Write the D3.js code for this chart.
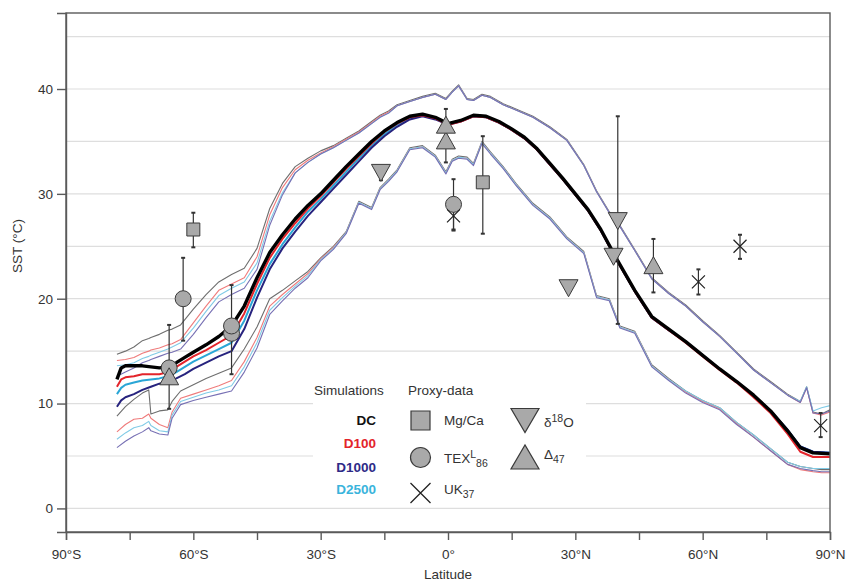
<!DOCTYPE html>
<html><head><meta charset="utf-8">
<script src="https://cdn.jsdelivr.net/npm/d3@7"></script>
<style>
body{margin:0;background:#fff;}
text{font-family:"Liberation Sans",Arial,Helvetica,sans-serif;}
</style></head><body>
<svg id="chart" width="850" height="581"></svg>
<script>
// ---------- DATA ----------
const latMean = [-78,-77,-76,-74,-72,-70,-68,-66,-64,-62,-60,-57,-54,-51,-48,-45,-42,-39,-36,-33,-30,-27,-24,-21,-18,-15,-12,-9,-6,-3,0,3,6,9,12,15,18,21,24,27,30,33,36,40,44,48,52,56,60,64,68,72,76,80,83,86,90];
const dcMean    = [12.3,13.4,13.6,13.6,13.6,13.5,13.4,13.5,13.9,14.4,14.9,15.6,16.4,17.4,19.3,22.0,24.4,26.1,27.6,28.9,30.0,31.3,32.6,33.8,35.0,36.0,36.8,37.4,37.6,37.3,36.7,37.0,37.5,37.4,36.9,36.2,35.4,34.3,32.9,31.5,30.0,28.5,26.6,23.6,20.8,18.3,17.1,15.9,14.6,13.3,12.1,10.8,9.3,7.4,5.8,5.3,5.2];
const d100Mean  = [11.6,12.3,12.5,12.6,12.8,12.8,12.8,13.0,13.5,14.0,14.5,15.1,15.8,16.5,18.6,21.4,23.9,25.7,27.2,28.6,29.8,31.1,32.4,33.6,34.8,35.9,36.7,37.3,37.5,37.2,36.6,36.9,37.4,37.3,36.8,36.1,35.3,34.2,32.8,31.4,29.9,28.4,26.5,23.5,20.7,18.2,17.0,15.8,14.5,13.2,12.0,10.6,9.1,7.1,5.4,4.9,4.9];
const d1000Mean = [9.7,10.3,10.6,10.9,11.3,11.6,11.9,12.1,12.4,12.8,13.3,13.9,14.5,15.0,17.1,20.1,22.8,24.8,26.4,27.9,29.2,30.5,31.8,33.1,34.4,35.5,36.4,37.1,37.4,37.1,36.6,36.9,37.4,37.3,36.8,36.1,35.3,34.2,32.8,31.4,29.9,28.4,26.5,23.5,20.7,18.2,17.0,15.9,14.6,13.3,12.1,10.8,9.3,7.5,5.9,5.4,5.3];
const d2500Mean = [10.9,11.5,11.8,12.0,12.2,12.3,12.4,12.6,13.0,13.5,14.0,14.6,15.2,15.8,17.9,20.8,23.3,25.2,26.8,28.3,29.5,30.8,32.1,33.4,34.6,35.7,36.6,37.2,37.5,37.2,36.6,37.0,37.4,37.3,36.8,36.1,35.3,34.2,32.8,31.4,29.9,28.4,26.5,23.5,20.7,18.2,17.0,15.9,14.6,13.3,12.1,10.8,9.3,7.5,5.9,5.4,5.3];

const latEnv = [-78,-76,-74,-72,-70.5,-70,-68,-66,-65,-63,-60,-57,-54,-51,-48,-45,-42,-39,-36,-33,-30,-27,-24,-21,-18,-16,-14,-12,-9,-6,-3,-0.5,1,2.5,4.5,6,8,10,13,16,20,24,28,32,35,38,40.5,44,48,52,56,60,64,68,72,76,80,83,84.5,86,88,90];
const dcMax    = [14.7,15.0,15.4,16.0,16.2,16.3,16.6,17.0,17.1,17.5,19.0,20.4,21.6,22.3,22.9,24.8,28.6,31.0,32.6,33.4,34.1,34.6,35.3,36.0,36.9,37.5,37.9,38.5,38.9,39.3,39.6,39.1,39.8,40.4,39.1,39.0,39.5,39.3,38.6,38.1,37.4,36.4,35.2,32.8,30.3,28.3,27.0,24.7,22.0,20.6,19.4,17.9,16.5,14.9,13.3,12.1,10.9,10.2,11.6,9.2,9.0,9.4];
const d100Max  = [14.1,14.2,14.4,14.8,15.0,15.1,15.3,15.6,15.7,16.1,17.7,19.3,20.8,21.4,22.0,24.0,28.0,30.6,32.3,33.2,33.9,34.5,35.2,35.9,36.8,37.4,37.8,38.4,38.8,39.2,39.5,39.0,39.7,40.3,39.0,38.9,39.4,39.2,38.5,38.0,37.3,36.3,35.1,32.7,30.2,28.2,26.9,24.6,21.9,20.5,19.3,17.8,16.4,14.8,13.2,12.0,10.8,10.1,11.5,9.1,8.9,9.2];
const d1000Max = [12.6,13.0,13.4,13.9,14.1,14.2,14.5,14.8,14.9,15.2,16.6,18.2,19.7,20.4,21.0,22.8,27.0,29.9,32.0,33.0,33.8,34.4,35.1,35.8,36.7,37.3,37.7,38.4,38.8,39.2,39.5,39.0,39.7,40.3,39.0,38.9,39.4,39.2,38.5,38.0,37.3,36.3,35.1,32.7,30.2,28.2,26.9,24.6,21.9,20.5,19.3,17.8,16.4,14.8,13.2,12.0,10.8,10.1,11.5,9.1,9.0,9.3];
const d2500Max = [13.6,13.7,13.9,14.3,14.5,14.6,14.9,15.2,15.4,15.8,17.2,18.8,20.3,21.0,21.6,23.4,27.4,30.1,32.0,33.0,33.8,34.4,35.1,35.8,36.7,37.3,37.7,38.4,38.8,39.2,39.5,39.0,39.7,40.3,39.0,38.9,39.4,39.2,38.5,38.0,37.3,36.3,35.1,32.7,30.2,28.2,26.9,24.6,21.9,20.5,19.3,17.8,16.4,14.8,13.2,12.0,10.8,10.2,11.6,9.3,9.6,9.8];
const dcMin    = [8.8,9.7,10.4,11.0,11.3,9.0,9.3,9.4,10.2,11.2,11.8,12.4,12.9,13.4,15.2,17.3,20.0,20.8,21.7,22.6,23.9,25.0,26.4,29.3,28.7,30.6,31.4,32.3,34.4,34.6,33.7,32.1,33.3,33.6,33.5,32.9,35.0,34.0,32.6,31.0,29.1,27.8,25.9,24.5,20.3,20.0,17.4,16.9,13.7,12.4,11.2,10.3,9.6,8.2,7.0,5.7,4.4,4.0,3.9,3.8,3.7,3.7];
const d100Min  = [7.3,8.0,8.5,8.6,9.0,8.6,8.0,7.7,9.2,10.5,10.9,11.3,11.7,12.2,14.0,16.3,19.3,20.4,21.4,22.4,23.8,24.9,26.3,29.2,28.6,30.5,31.3,32.2,34.3,34.5,33.6,32.0,33.2,33.5,33.4,32.8,34.9,33.9,32.5,30.9,29.0,27.7,25.8,24.4,20.2,19.9,17.3,16.8,13.6,12.3,11.1,10.2,9.5,8.1,6.8,5.5,4.2,3.7,3.6,3.5,3.4,3.4];
const d1000Min = [5.8,6.4,6.9,7.3,7.7,7.4,7.1,7.0,8.6,9.9,10.3,10.6,10.9,11.2,13.0,15.3,18.5,19.8,21.0,22.0,23.6,24.7,26.2,29.1,28.5,30.4,31.2,32.1,34.2,34.4,33.5,31.9,33.1,33.4,33.3,32.7,34.8,33.8,32.4,30.8,28.9,27.6,25.7,24.3,20.1,19.8,17.2,16.7,13.5,12.2,11.0,10.1,9.4,8.0,6.8,5.5,4.2,3.8,3.7,3.6,3.5,3.5];
const d2500Min = [6.6,7.2,7.7,7.9,8.3,7.9,7.4,7.3,8.9,10.2,10.6,11.0,11.3,11.7,13.5,15.8,18.9,20.1,21.2,22.2,23.7,24.8,26.3,29.2,28.6,30.5,31.3,32.2,34.3,34.5,33.6,32.0,33.2,33.5,33.4,32.8,34.9,33.9,32.5,30.9,29.0,27.7,25.8,24.4,20.2,19.9,17.3,16.8,13.6,12.3,11.2,10.3,9.6,8.2,7.0,5.7,4.4,4.0,3.9,3.8,3.8,3.8];

// proxies
const mgca  = [{lat:-60.0,sst:26.6,lo:24.9,hi:28.2},{lat:8.2,sst:31.1,lo:26.2,hi:35.5}];
const tex86 = [{lat:-62.4,sst:20.0,lo:16.0,hi:23.9},{lat:-65.7,sst:13.4,lo:9.5,hi:17.5},{lat:-51.0,sst:16.7,lo:null,hi:null},{lat:-51.0,sst:17.4,lo:12.8,hi:21.3},{lat:1.3,sst:29.0,lo:26.5,hi:31.4}];
const uk37  = [{lat:1.3,sst:27.9,lo:26.6,hi:28.9},{lat:59.0,sst:21.6,lo:20.4,hi:22.8},{lat:68.8,sst:25.0,lo:23.8,hi:26.1},{lat:87.8,sst:7.9,lo:6.8,hi:9.1}];
const d18o  = [{lat:-15.8,sst:32.0,lo:31.3,hi:32.6},{lat:28.4,sst:21.0,lo:null,hi:null},{lat:39.0,sst:24.0,lo:null,hi:null},{lat:40.0,sst:27.4,lo:17.6,hi:37.4}];
const d47   = [{lat:-65.7,sst:12.6,lo:null,hi:null},{lat:-0.5,sst:35.1,lo:null,hi:null},{lat:-0.5,sst:36.6,lo:33.0,hi:38.1},{lat:48.4,sst:23.2,lo:20.6,hi:25.7}];

const xTicks = [-90,-75,-60,-45,-30,-15,0,15,30,45,60,75,90];
const xTickLabels = ["90°S","","60°S","","30°S","","0°","","30°N","","60°N","","90°N"];
const yTicks = [0,10,20,30,40];
const yGrid = [0,5,10,15,20,25,30,35,40,45];
const simNames = ["DC","D100","D1000","D2500"];

// ---------- STYLE ----------
const FS = 13.5;
const meanColor = {DC:"#000000", D100:"#e3242b", D1000:"#27237e", D2500:"#2aa6d6"};
const envColor  = {DC:"#6e6e6e", D100:"#ef7b7b", D1000:"#7770b4", D2500:"#80cbe6"};
const legendColor = {DC:"#111111", D100:"#e3242b", D1000:"#2e2a87", D2500:"#3ab4dc"};
const mFill = "#a9a9a9", mStroke = "#3a3a3a";

const svg = d3.select("#chart");
const x = d3.scaleLinear().domain([-90,90]).range([66,830]);
const y = d3.scaleLinear().domain([-2.25,47.25]).range([532,13]);

// grid
svg.append("g").selectAll("line").data(yGrid).join("line")
  .attr("x1",x(-90)).attr("x2",x(90))
  .attr("y1",d=>y(d)).attr("y2",d=>y(d))
  .attr("stroke","#dedede").attr("stroke-width",1.2);

// legend background
svg.append("rect").attr("x",313).attr("y",378).attr("width",273).attr("height",126).attr("fill","#fff");

const lineGen = lat => d3.line().x((d,i)=>x(lat[i])).y(d=>y(d));

// envelopes
const envs = [
  ["DC",dcMax],["DC",dcMin],
  ["D100",d100Max],["D100",d100Min],
  ["D2500",d2500Max],["D2500",d2500Min],
  ["D1000",d1000Max],["D1000",d1000Min]
];
svg.append("g").selectAll("path").data(envs).join("path")
  .attr("d",d=>lineGen(latEnv)(d[1]))
  .attr("fill","none").attr("stroke",d=>envColor[d[0]]).attr("stroke-width",1.1)
  .attr("stroke-linejoin","round");

// means
const means = [["D2500",d2500Mean,2],["D1000",d1000Mean,2],["D100",d100Mean,2],["DC",dcMean,3.4]];
svg.append("g").selectAll("path").data(means).join("path")
  .attr("d",d=>lineGen(latMean)(d[1]))
  .attr("fill","none").attr("stroke",d=>meanColor[d[0]]).attr("stroke-width",d=>d[2])
  .attr("stroke-linejoin","round");

// error bars
const allProxy = [].concat(mgca,tex86,uk37,d18o,d47).filter(d=>d.lo!==null);
const eb = svg.append("g").attr("stroke","#333").attr("fill","none");
eb.selectAll("line.v").data(allProxy).join("line").attr("class","v")
  .attr("x1",d=>x(d.lat)).attr("x2",d=>x(d.lat)).attr("y1",d=>y(d.lo)).attr("y2",d=>y(d.hi)).attr("stroke-width",1.2);
eb.selectAll("line.c1").data(allProxy).join("line").attr("class","c1")
  .attr("x1",d=>x(d.lat)-2).attr("x2",d=>x(d.lat)+2).attr("y1",d=>y(d.lo)).attr("y2",d=>y(d.lo)).attr("stroke-width",2);
eb.selectAll("line.c2").data(allProxy).join("line").attr("class","c2")
  .attr("x1",d=>x(d.lat)-2).attr("x2",d=>x(d.lat)+2).attr("y1",d=>y(d.hi)).attr("y2",d=>y(d.hi)).attr("stroke-width",2);

// marker shapes
function squarePath(cx,cy,s){return `M${cx-s/2},${cy-s/2}h${s}v${s}h${-s}Z`;}
function triUp(cx,cy,w,h){return `M${cx-w/2},${cy+h/2}L${cx+w/2},${cy+h/2}L${cx},${cy-h/2}Z`;}
function triDown(cx,cy,w,h){return `M${cx-w/2},${cy-h/2}L${cx+w/2},${cy-h/2}L${cx},${cy+h/2}Z`;}
function crossPath(cx,cy,r){return `M${cx-r},${cy-r}L${cx+r},${cy+r}M${cx-r},${cy+r}L${cx+r},${cy-r}`;}

const mk = svg.append("g");
mk.selectAll("path.sq").data(mgca).join("path").attr("class","sq")
  .attr("d",d=>squarePath(x(d.lat),y(d.sst),13)).attr("fill",mFill).attr("stroke",mStroke).attr("stroke-width",1);
mk.selectAll("circle").data(tex86).join("circle")
  .attr("cx",d=>x(d.lat)).attr("cy",d=>y(d.sst)).attr("r",8).attr("fill",mFill).attr("stroke",mStroke).attr("stroke-width",1);
mk.selectAll("path.td").data(d18o).join("path").attr("class","td")
  .attr("d",d=>triDown(x(d.lat),y(d.sst),19,17)).attr("fill",mFill).attr("stroke",mStroke).attr("stroke-width",1);
mk.selectAll("path.tu").data(d47).join("path").attr("class","tu")
  .attr("d",d=>triUp(x(d.lat),y(d.sst),19,17)).attr("fill",mFill).attr("stroke",mStroke).attr("stroke-width",1);
mk.selectAll("path.x").data(uk37).join("path").attr("class","x")
  .attr("d",d=>crossPath(x(d.lat),y(d.sst),6.5)).attr("fill","none").attr("stroke","#222").attr("stroke-width",1.2);

// frame
svg.append("rect").attr("x",x(-90)).attr("y",y(47.25)).attr("width",x(90)-x(-90)).attr("height",y(-2.25)-y(47.25))
  .attr("fill","none").attr("stroke","#5a5a5a").attr("stroke-width",1.4);

// axes
const xAxis = d3.axisBottom(x).tickValues(xTicks).tickSize(8).tickPadding(9)
  .tickFormat((d,i)=>xTickLabels[i]);
const gx = svg.append("g").attr("transform",`translate(0,${y(-2.25)})`).call(xAxis);
const yAxis = d3.axisLeft(y).tickValues(yTicks).tickSize(9).tickPadding(4).tickFormat(d3.format("d"));
const gy = svg.append("g").attr("transform",`translate(${x(-90)},0)`).call(yAxis);
[gx,gy].forEach(g=>{
  g.select(".domain").attr("stroke","#5a5a5a").attr("stroke-width",1.4);
  g.selectAll(".tick line").attr("stroke","#5a5a5a").attr("stroke-width",1.4);
  g.selectAll(".tick text").attr("fill","#333").attr("font-size",FS).attr("font-family","Liberation Sans, Arial, sans-serif");
});

// axis titles
svg.append("text").attr("x",448).attr("y",579).attr("text-anchor","middle")
  .attr("font-size",FS).attr("fill","#333").text("Latitude");
svg.append("text").attr("transform","translate(22,246) rotate(-90)").attr("text-anchor","middle")
  .attr("font-size",FS).attr("fill","#333").text("SST (°C)");

// legend
const lg = svg.append("g");
lg.append("text").attr("x",314).attr("y",390).attr("dy","0.35em").attr("font-size",FS).attr("fill","#333").text("Simulations");
lg.append("text").attr("x",408).attr("y",390).attr("dy","0.35em").attr("font-size",FS).attr("fill","#333").text("Proxy-data");
const simY = [420,443,467,489];
lg.selectAll("text.sim").data(simNames).join("text").attr("class","sim")
  .attr("x",376).attr("y",(d,i)=>simY[i]).attr("dy","0.35em").attr("text-anchor","end")
  .attr("font-size",FS).attr("font-weight","bold").attr("fill",d=>legendColor[d]).text(d=>d);

lg.append("path").attr("d",squarePath(420.5,420.5,19)).attr("fill",mFill).attr("stroke",mStroke).attr("stroke-width",1.2);
lg.append("circle").attr("cx",420.5).attr("cy",457.5).attr("r",10).attr("fill",mFill).attr("stroke",mStroke).attr("stroke-width",1.2);
lg.append("path").attr("d",crossPath(420.5,493,10)).attr("fill","none").attr("stroke","#222").attr("stroke-width",1.3);
lg.append("path").attr("d",triDown(525,420.5,28,24)).attr("fill",mFill).attr("stroke",mStroke).attr("stroke-width",1.2);
lg.append("path").attr("d",triUp(525,457,28,24)).attr("fill",mFill).attr("stroke",mStroke).attr("stroke-width",1.2);

lg.append("text").attr("x",444).attr("y",420).attr("dy","0.35em").attr("font-size",FS).attr("fill","#333").text("Mg/Ca");
const t2 = lg.append("text").attr("x",444).attr("y",458).attr("dy","0.35em").attr("font-size",FS).attr("fill","#333");
t2.append("tspan").text("TEX");
t2.append("tspan").attr("dy",-5).attr("font-size",10.5).text("L");
t2.append("tspan").attr("dy",9).attr("font-size",10.5).text("86");
const t3 = lg.append("text").attr("x",444).attr("y",489).attr("dy","0.35em").attr("font-size",FS).attr("fill","#333");
t3.append("tspan").text("UK");
t3.append("tspan").attr("dy",4).attr("font-size",10.5).text("37");
const t4 = lg.append("text").attr("x",544).attr("y",422).attr("dy","0.35em").attr("font-size",FS).attr("fill","#333");
t4.append("tspan").text("δ");
t4.append("tspan").attr("dy",-5).attr("font-size",10.5).text("18");
t4.append("tspan").attr("dy",5).text("O");
const t5 = lg.append("text").attr("x",544).attr("y",454).attr("dy","0.35em").attr("font-size",FS).attr("fill","#333");
t5.append("tspan").text("Δ");
t5.append("tspan").attr("dy",4).attr("font-size",10.5).text("47");
</script>
</body></html>
